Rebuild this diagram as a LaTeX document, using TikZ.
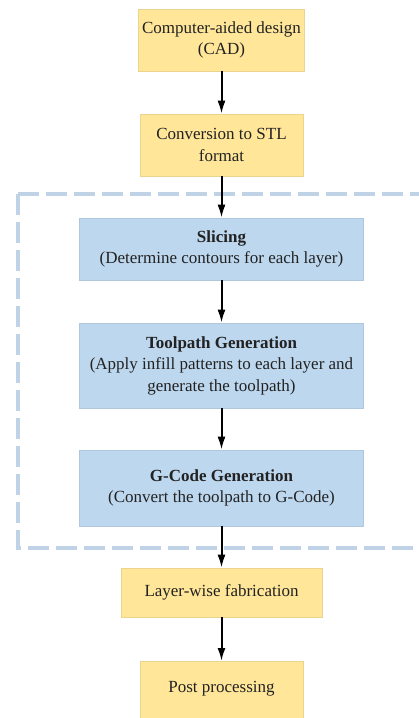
\documentclass[tikz,border=0pt]{standalone}
\usepackage{fontspec}
\setmainfont{Liberation Serif}
\usetikzlibrary{arrows.meta}

\definecolor{padyellow}{HTML}{FFE699}
\definecolor{padblue}{HTML}{BDD7EE}
\definecolor{groupline}{HTML}{BFD2E6}
\definecolor{inktext}{HTML}{222222}

\tikzset{
  stage/.style={draw=padyellow!92!black, line width=0.7pt, fill=padyellow,
    text=inktext, align=center, font=\fontsize{17}{21.5}\selectfont,
    minimum width=163pt, minimum height=62pt},
  slicer/.style={stage, draw=padblue!93!black, fill=padblue,
    minimum width=284pt},
  flow/.style={-{Latex[length=13pt,width=8pt]}, line width=2pt, black},
  group/.style={draw=groupline, line width=3.2pt, dash pattern=on 21pt off 7pt}
}

\begin{document}
\begin{tikzpicture}[x=1pt,y=-1pt]
	\clip (0,0) rectangle (419,718);
	\fill[white] (0,0) rectangle (419,718);

	% slicer steps grouped in a dashed frame
	\draw[group] (18,194) -- (440,194);
	\draw[group] (18,194) -- (18,548) -- (440,548);

	% printing chain, top to bottom
	\node[stage] (cad) at (221.5,40) {Computer-aided design\\(CAD)};
	\node[stage] (stl) at (221.5,145) {Conversion to STL\\format};
	\node[slicer] (slice) at (221.5,249) {\textbf{Slicing}\\(Determine contours for each layer)};
	\node[slicer, minimum height=85pt] (tool) at (221.5,365.5) {\textbf{Toolpath Generation}\\(Apply infill patterns to each layer and\\generate the toolpath)};
	\node[slicer, minimum height=76pt] (gcode) at (221.5,488) {\textbf{G-Code Generation}\\(Convert the toolpath to G-Code)};
	\node[stage, minimum width=201pt, minimum height=49pt] (layer) at (221.5,592.5) {Layer-wise fabrication};
	% last box runs off the page
	\node[stage, minimum height=0pt, inner ysep=0pt, text height=31pt, text depth=40pt, anchor=north] (post) at (221.5,661) {Post processing};

	\draw[flow] (cad.south) -- (stl.north);
	\draw[flow] (stl.south) -- (slice.north);
	\draw[flow] (slice.south) -- (tool.north);
	\draw[flow] (tool.south) -- (gcode.north);
	\draw[flow] (gcode.south) -- (layer.north);
	\draw[flow] (layer.south) -- (post.north);
\end{tikzpicture}
\end{document}
